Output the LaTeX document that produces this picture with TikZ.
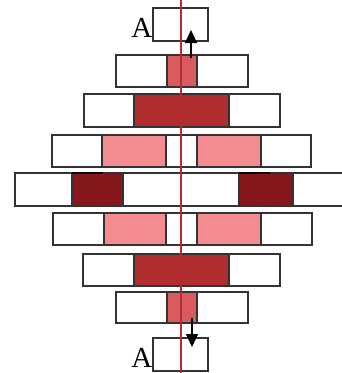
\documentclass[tikz,border=0pt]{standalone}
\usepackage{fontspec}
\newfontfamily\letterfont{Liberation Serif}
\usetikzlibrary{arrows.meta}
\definecolor{cline}{HTML}{B8282E}
\definecolor{cmid}{HTML}{D85C5E}
\definecolor{cdark}{HTML}{B02E2F}
\definecolor{cpink}{HTML}{F38C90}
\definecolor{cdeep}{HTML}{86161B}
\definecolor{boxgray}{HTML}{333333}
\newcommand{\cellbox}[6]{\node[cell, fill=#6, minimum width={(#3-#2)*1pt}, minimum height={(#5-#4)*1pt}] (#1) at (#2,#4) {};}
\begin{document}
\begin{tikzpicture}[x=1pt,y=-1pt,
  cell/.style={draw=boxgray, line width=1.2pt, inner sep=0pt, outer sep=0pt, anchor=north west},
  axisline/.style={draw=cline, line width=2pt},
  movearrow/.style={draw=black, line width=1.1pt, -{Triangle[length=13pt,width=12pt]}},
  letterlab/.style={font=\letterfont\fontsize{29pt}{29pt}\selectfont, inner sep=0.5pt, anchor=east}]
\useasboundingbox (0,0) rectangle (342,373);
\clip (0,0) rectangle (342,373);
% top A
\cellbox{at}{153}{208}{8}{41}{white}
% row 2
\cellbox{a2}{116}{167}{55}{87}{white}
\cellbox{b2}{167}{197}{55}{87}{cmid}
\cellbox{c2}{197}{248}{55}{87}{white}
% row 3
\cellbox{a3}{84}{134}{94}{127}{white}
\cellbox{b3}{134}{229}{94}{127}{cdark}
\cellbox{c3}{229}{280}{94}{127}{white}
% row 4
\cellbox{a4}{52}{102}{135}{167}{white}
\cellbox{b4}{102}{166}{135}{167}{cpink}
\cellbox{c4}{166}{197}{135}{167}{white}
\cellbox{d4}{197}{261}{135}{167}{cpink}
\cellbox{e4}{261}{311}{135}{167}{white}
% row 5
\cellbox{a5}{15}{72}{173}{206}{white}
\cellbox{b5}{72}{123}{173}{206}{cdeep}
\cellbox{c5}{123}{239}{173}{206}{white}
\cellbox{d5}{239}{293}{173}{206}{cdeep}
\cellbox{e5}{293}{352}{173}{206}{white}
% row 6
\cellbox{a6}{53}{104}{213}{245}{white}
\cellbox{b6}{104}{166}{213}{245}{cpink}
\cellbox{c6}{166}{197}{213}{245}{white}
\cellbox{d6}{197}{261}{213}{245}{cpink}
\cellbox{e6}{261}{312}{213}{245}{white}
% row 7
\cellbox{a7}{83}{134}{254}{286}{white}
\cellbox{b7}{134}{229}{254}{286}{cdark}
\cellbox{c7}{229}{280}{254}{286}{white}
% row 8
\cellbox{a8}{116}{167}{292}{323}{white}
\cellbox{b8}{167}{197}{292}{323}{cmid}
\cellbox{c8}{197}{248}{292}{323}{white}
% bottom A
\cellbox{ab}{153}{208}{338}{371}{white}
% labels
\node[letterlab] (la) at ([yshift=-3pt]at.west) {A};
\node[letterlab] (lb) at ([yshift=-3pt]ab.west) {A};
% thick top marks on deep cells
\draw[line width=2pt] (b5.north west) -- ++(31,0);
\draw[line width=2pt] (d5.north west) -- ++(31,0);
% axis
\coordinate (axtop) at (181,0);
\coordinate (axbot) at (181,373);
\draw[axisline] (axtop) -- (axbot);
% arrows
\coordinate (up0) at (191,58);
\coordinate (up1) at (191,30);
\coordinate (dn0) at (192,318);
\coordinate (dn1) at (192,347);
\draw[movearrow] (up0) -- (up1);
\draw[movearrow] (dn0) -- (dn1);
\end{tikzpicture}
\end{document}
